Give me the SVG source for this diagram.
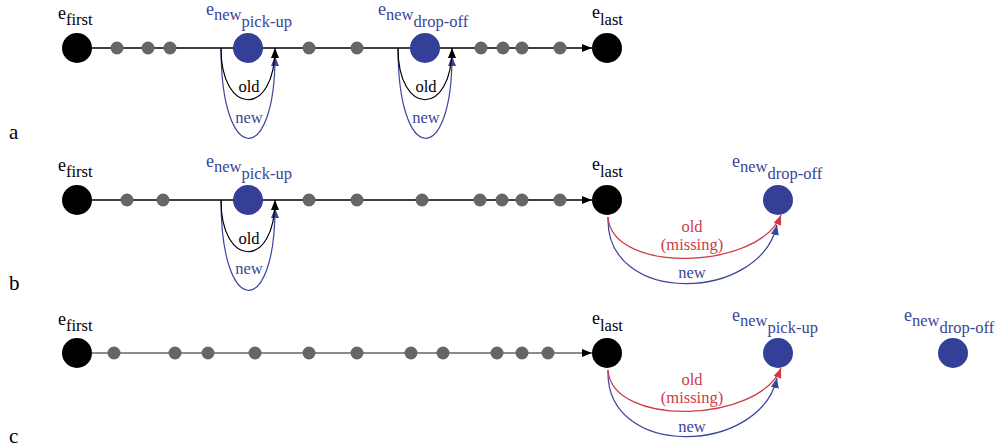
<svg xmlns="http://www.w3.org/2000/svg" width="1000" height="446" viewBox="0 0 1000 446">
  <defs>
    <marker id="ak" markerUnits="userSpaceOnUse" markerWidth="10" markerHeight="8" refX="10" refY="4" orient="auto"><path d="M0,0 L10,4 L0,8 z" fill="#000"/></marker>
    <marker id="ab" markerUnits="userSpaceOnUse" markerWidth="10" markerHeight="8" refX="10" refY="4" orient="auto"><path d="M0,0 L10,4 L0,8 z" fill="#3a459c"/></marker>
    <marker id="ar" markerUnits="userSpaceOnUse" markerWidth="10" markerHeight="8" refX="10" refY="4" orient="auto"><path d="M0,0 L10,4 L0,8 z" fill="#cf3b47"/></marker>
  </defs>
  <rect width="1000" height="446" fill="#fff"/>

  <!-- connectors -->
  <g id="connectors" fill="none">
    <!-- main chains -->
    <g stroke="#000" stroke-width="1.3">
      <path d="M92,48 H592" marker-end="url(#ak)"/>
      <path d="M92,200 H592" marker-end="url(#ak)"/>
    </g>
    <path d="M92,353 H592" stroke="#666" stroke-width="1.6" marker-end="url(#ak)"/>
    <!-- new insertion loops -->
    <g stroke="#3a459c" stroke-width="1.2" marker-end="url(#ab)">
      <path d="M221,48 C221,167 275,167 275,56"/>
      <path d="M398,48 C398,167 452,167 452,56"/>
      <path d="M221,200 C221,319 275,319 275,208"/>
      <path d="M608,217 C605,307 760,302 777,225"/>
      <path d="M608,370 C605,460 760,455 777,378"/>
    </g>
    <!-- old insertion loops -->
    <g stroke="#000" stroke-width="1.2" marker-end="url(#ak)">
      <path d="M221,48 C221,117 275,117 275,48"/>
      <path d="M398,48 C398,117 452,117 452,48"/>
      <path d="M221,200 C221,269 275,269 275,200"/>
    </g>
    <!-- missing old edges -->
    <g stroke="#cf3b47" stroke-width="1.3" marker-end="url(#ar)">
      <path d="M608,217 C612,275 760,270 781,215"/>
      <path d="M608,370 C612,428 760,423 781,368"/>
    </g>
  </g>

  <!-- intermediate stops -->
  <g id="stops" fill="#666">
    <circle cx="117" cy="48" r="6.5"/><circle cx="148" cy="48" r="6.5"/><circle cx="170" cy="48" r="6.5"/>
    <circle cx="309" cy="48" r="6.5"/><circle cx="357" cy="48" r="6.5"/>
    <circle cx="481" cy="48" r="6.5"/><circle cx="503" cy="48" r="6.5"/><circle cx="522" cy="48" r="6.5"/><circle cx="560" cy="48" r="6.5"/>

    <circle cx="127" cy="200" r="6.5"/><circle cx="163" cy="200" r="6.5"/>
    <circle cx="309" cy="200" r="6.5"/><circle cx="357" cy="200" r="6.5"/><circle cx="422" cy="200" r="6.5"/>
    <circle cx="480" cy="200" r="6.5"/><circle cx="502" cy="200" r="6.5"/><circle cx="522" cy="200" r="6.5"/><circle cx="560" cy="200" r="6.5"/>

    <circle cx="114" cy="353" r="6.5"/><circle cx="175" cy="353" r="6.5"/><circle cx="208" cy="353" r="6.5"/><circle cx="255" cy="353" r="6.5"/>
    <circle cx="309" cy="353" r="6.5"/><circle cx="357" cy="353" r="6.5"/><circle cx="411" cy="353" r="6.5"/><circle cx="443" cy="353" r="6.5"/>
    <circle cx="497" cy="353" r="6.5"/><circle cx="522" cy="353" r="6.5"/><circle cx="548" cy="353" r="6.5"/>
  </g>

  <!-- labels are set at double size and scaled by half -->

  <!-- row a nodes -->
  <g id="a-first"><circle fill="#000" cx="77" cy="48" r="15"/><text transform="scale(0.5)" fill="#000" font-family="Liberation Serif" font-size="36" x="116" y="38">e<tspan font-size="33" dy="12">first</tspan></text></g>
  <g id="a-pickup"><circle fill="#343f98" cx="248" cy="48" r="15"/><text transform="scale(0.5)" fill="#3a459c" font-family="Liberation Serif" font-size="36" x="412" y="30">e<tspan font-size="33" dy="10">new</tspan><tspan font-size="33" dy="14">pick-up</tspan></text></g>
  <g id="a-dropoff"><circle fill="#343f98" cx="425" cy="48" r="15"/><text transform="scale(0.5)" fill="#3a459c" font-family="Liberation Serif" font-size="36" x="756" y="30">e<tspan font-size="33" dy="10">new</tspan><tspan font-size="33" dy="14">drop-off</tspan></text></g>
  <g id="a-last"><circle fill="#000" cx="607" cy="48" r="15"/><text transform="scale(0.5)" fill="#000" font-family="Liberation Serif" font-size="36" x="1184" y="36">e<tspan font-size="33" dy="14">last</tspan></text></g>

  <!-- row b nodes -->
  <g id="b-first"><circle fill="#000" cx="77" cy="200" r="15"/><text transform="scale(0.5)" fill="#000" font-family="Liberation Serif" font-size="36" x="116" y="342">e<tspan font-size="33" dy="12">first</tspan></text></g>
  <g id="b-pickup"><circle fill="#343f98" cx="248" cy="200" r="15"/><text transform="scale(0.5)" fill="#3a459c" font-family="Liberation Serif" font-size="36" x="412" y="334">e<tspan font-size="33" dy="10">new</tspan><tspan font-size="33" dy="14">pick-up</tspan></text></g>
  <g id="b-last"><circle fill="#000" cx="607" cy="200" r="15"/><text transform="scale(0.5)" fill="#000" font-family="Liberation Serif" font-size="36" x="1184" y="340">e<tspan font-size="33" dy="14">last</tspan></text></g>
  <g id="b-dropoff"><circle fill="#343f98" cx="778" cy="200" r="15"/><text transform="scale(0.5)" fill="#3a459c" font-family="Liberation Serif" font-size="36" x="1464" y="334">e<tspan font-size="33" dy="10">new</tspan><tspan font-size="33" dy="14">drop-off</tspan></text></g>

  <!-- row c nodes -->
  <g id="c-first"><circle fill="#000" cx="77" cy="353" r="15"/><text transform="scale(0.5)" fill="#000" font-family="Liberation Serif" font-size="36" x="116" y="650">e<tspan font-size="33" dy="12">first</tspan></text></g>
  <g id="c-last"><circle fill="#000" cx="607" cy="353" r="15"/><text transform="scale(0.5)" fill="#000" font-family="Liberation Serif" font-size="36" x="1184" y="648">e<tspan font-size="33" dy="14">last</tspan></text></g>
  <g id="c-pickup"><circle fill="#343f98" cx="778" cy="353" r="15"/><text transform="scale(0.5)" fill="#3a459c" font-family="Liberation Serif" font-size="36" x="1464" y="642">e<tspan font-size="33" dy="10">new</tspan><tspan font-size="33" dy="14">pick-up</tspan></text></g>
  <g id="c-dropoff"><circle fill="#343f98" cx="953" cy="353" r="15"/><text transform="scale(0.5)" fill="#3a459c" font-family="Liberation Serif" font-size="36" x="1808" y="642">e<tspan font-size="33" dy="10">new</tspan><tspan font-size="33" dy="14">drop-off</tspan></text></g>

  <!-- edge labels -->
  <g id="edge-labels" text-anchor="middle">
    <g transform="scale(0.5)" font-family="Liberation Serif" font-size="33">
      <text font-family="Liberation Serif" fill="#000" x="498" y="184">old</text>
      <text font-family="Liberation Serif" fill="#3a459c" x="498" y="246">new</text>
      <text font-family="Liberation Serif" fill="#000" x="852" y="184">old</text>
      <text font-family="Liberation Serif" fill="#3a459c" x="852" y="246">new</text>

      <text font-family="Liberation Serif" fill="#000" x="498" y="488">old</text>
      <text font-family="Liberation Serif" fill="#3a459c" x="498" y="548">new</text>
      <text font-family="Liberation Serif" fill="#cf3b47" x="1384" y="464">old</text>
      <text font-family="Liberation Serif" fill="#cf3b47" x="1384" y="500">(missing)</text>
      <text font-family="Liberation Serif" fill="#3a459c" x="1384" y="556">new</text>

      <text font-family="Liberation Serif" fill="#cf3b47" x="1384" y="770">old</text>
      <text font-family="Liberation Serif" fill="#cf3b47" x="1384" y="806">(missing)</text>
      <text font-family="Liberation Serif" fill="#3a459c" x="1384" y="864">new</text>
    </g>
  </g>

  <!-- panel letters -->
  <g id="panel-letters" fill="#000">
    <g transform="scale(0.5)" font-family="Liberation Serif" font-size="42">
      <text font-family="Liberation Serif" x="18" y="278">a</text>
      <text font-family="Liberation Serif" x="18" y="580">b</text>
      <text font-family="Liberation Serif" x="18" y="886">c</text>
    </g>
  </g>
</svg>
